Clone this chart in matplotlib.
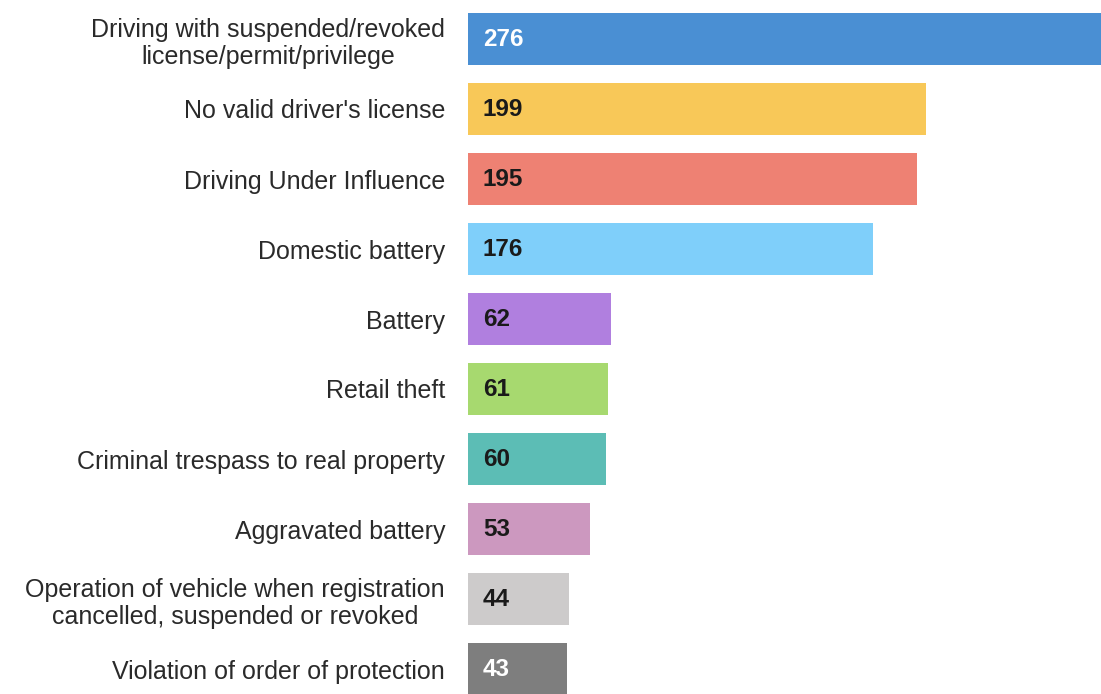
import matplotlib
matplotlib.use("Agg")
import matplotlib.pyplot as plt

categories = [
    "Driving with suspended/revoked\nlicense/permit/privilege",
    "No valid driver's license",
    "Driving Under Influence",
    "Domestic battery",
    "Battery",
    "Retail theft",
    "Criminal trespass to real property",
    "Aggravated battery",
    "Operation of vehicle when registration\ncancelled, suspended or revoked",
    "Violation of order of protection",
]
values = [276, 199, 195, 176, 62, 61, 60, 53, 44, 43]
colors = ["#4A8FD3", "#F8C858", "#EE8173", "#7FCFFA", "#B07FDF",
          "#A7D96F", "#5CBDB5", "#CC98BF", "#CDCBCB", "#7E7E7E"]
label_colors = ["white", "#1a1a1a", "#1a1a1a", "#1a1a1a", "#1a1a1a",
                "#1a1a1a", "#1a1a1a", "#1a1a1a", "#1a1a1a", "white"]

plt.rcParams['font.family'] = ['Liberation Sans', 'DejaVu Sans']

W, H = 1101, 694
fig = plt.figure(figsize=(W / 100, H / 100), dpi=100)
ax_left = 468 / W
ax = fig.add_axes([ax_left, 0, 1 - ax_left, 1])

ypos = list(range(len(values)))
ax.barh(ypos, values, height=0.743, color=colors)
ax.set_xlim(0, 275)
ax.set_ylim(655 / 70, -39 / 70)

ax.set_yticks(ypos)
ax.set_yticklabels(categories, fontsize=18, color="#2a2a2a")
for t in ax.get_yticklabels():
    t.set_multialignment('center')
    t.set_linespacing(1.2)
ax.tick_params(axis='y', length=0, pad=16.5)
ax.tick_params(axis='x', bottom=False, labelbottom=False)
for s in ax.spines.values():
    s.set_visible(False)

for y, v, c in zip(ypos, values, label_colors):
    ax.annotate(str(v), xy=(0, y), xytext=(15, 0), textcoords='offset pixels',
                va='center', ha='left', fontsize=17.5, fontweight='bold', color=c)

fig.savefig("out.png", dpi=100)
